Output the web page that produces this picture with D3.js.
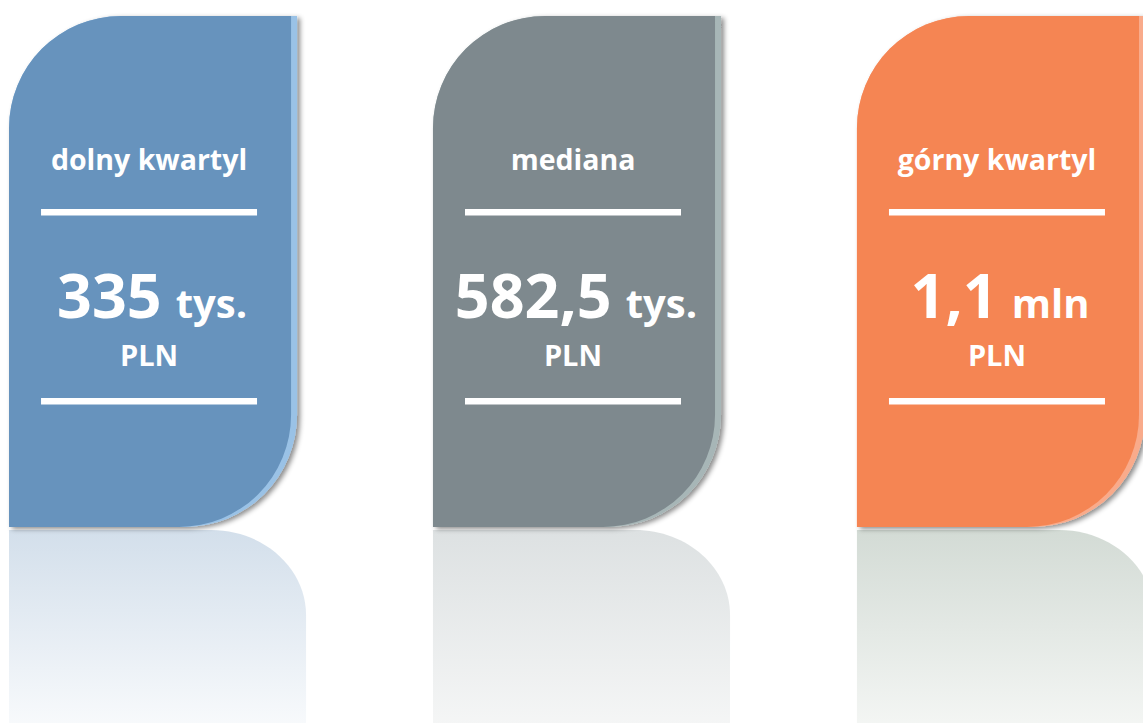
<!DOCTYPE html>
<head>
    <meta charset="utf-8">
    <script src="https://d3js.org/d3.v7.min.js"></script>
    <style>
        body { margin: 0; background: #fff; }
        svg { display: block; font-family: "Open Sans", "Noto Sans", sans-serif; }
    </style>
</head>
<body>
    <svg></svg>
</body>

<script>
    // Data
    var labels = ["dolny kwartyl", "mediana", "górny kwartyl"];
    var values = ["335", "582,5", "1,1"];
    var units = ["tys.", "tys.", "mln"];
    var currency = ["PLN", "PLN", "PLN"];

    // Colours per card: fill, light edge, reflection top, reflection bottom
    var fills = ["#6793bd", "#7e898e", "#f58553"];
    var edges = ["#9ac2e6", "#a7b6b7", "#f9ab8b"];
    var reflTop = ["#d3dfeb", "#dde1e2", "#d3dbd5"];
    var reflBottom = ["#f8fafc", "#f5f6f6", "#f4f6f4"];

    var width = 1143;
    var height = 723;
    var cardTop = 16, cardBottom = 527, r = 112;
    var reflY = 530, reflRx = 95, reflRy = 85;

    var svg = d3.select('svg')
        .attr('width', width)
        .attr('height', height);

    var x = d3.scaleBand()
        .domain(labels)
        .range([9, 1141])
        .paddingInner(0.33)
        .paddingOuter(0);

    var defs = svg.append('defs');

    var shadow = defs.append('filter')
        .attr('id', 'shadow')
        .attr('x', '-10%').attr('y', '-10%')
        .attr('width', '130%').attr('height', '130%');
    shadow.append('feDropShadow')
        .attr('dx', 3).attr('dy', 2)
        .attr('stdDeviation', 2.5)
        .attr('flood-color', '#000')
        .attr('flood-opacity', 0.45);

    labels.forEach(function (d, i) {
        var grad = defs.append('linearGradient')
            .attr('id', 'refl' + i)
            .attr('x1', 0).attr('y1', 0).attr('x2', 0).attr('y2', 1);
        grad.append('stop').attr('offset', '0%').attr('stop-color', reflTop[i]);
        grad.append('stop').attr('offset', '100%').attr('stop-color', reflBottom[i]);
    });

    // card outline: rounded top-left and bottom-right corners
    function cardPath(x0, x1) {
        var p = d3.path();
        p.moveTo(x0, cardBottom);
        p.lineTo(x0, cardTop + r);
        p.arcTo(x0, cardTop, x0 + r, cardTop, r);
        p.lineTo(x1, cardTop);
        p.lineTo(x1, cardBottom - r);
        p.arcTo(x1, cardBottom, x1 - r, cardBottom, r);
        p.closePath();
        return p.toString();
    }

    // reflection: mirrored bottom-right corner, fading out
    function reflPath(x0, x1) {
        var k = 0.5523;
        var p = d3.path();
        p.moveTo(x0, height + 5);
        p.lineTo(x0, reflY);
        p.lineTo(x1 - reflRx, reflY);
        p.bezierCurveTo(x1 - reflRx + reflRx * k, reflY, x1, reflY + reflRy - reflRy * k, x1, reflY + reflRy);
        p.lineTo(x1, height + 5);
        p.closePath();
        return p.toString();
    }

    var bw = x.bandwidth();

    var cards = svg.selectAll('g.card')
        .data(labels)
        .enter().append('g')
        .attr('class', 'card');

    cards.append('path')
        .attr('d', function (d) { return reflPath(x(d), x(d) + bw + 13); })
        .attr('fill', function (d, i) { return 'url(#refl' + i + ')'; });

    cards.append('path')
        .attr('d', function (d) { return cardPath(x(d), x(d) + bw + 4); })
        .attr('fill', function (d, i) { return edges[i]; })
        .attr('filter', 'url(#shadow)');

    cards.append('path')
        .attr('d', function (d) { return cardPath(x(d), x(d) + bw - 2); })
        .attr('fill', function (d, i) { return fills[i]; });

    function cx(d) { return x(d) + bw / 2 - 2; }

    cards.append('text')
        .attr('x', cx)
        .attr('y', 170)
        .attr('text-anchor', 'middle')
        .attr('fill', '#fff')
        .style('font-weight', 700)
        .style('font-size', '28.5px')
        .text(function (d) { return d; });

    [209, 398].forEach(function (ly) {
        cards.append('rect')
            .attr('x', function (d) { return cx(d) - 108; })
            .attr('y', ly)
            .attr('width', 216)
            .attr('height', 6.5)
            .attr('fill', '#fff');
    });

    var val = cards.append('text')
        .attr('x', function (d) { return cx(d) + 3; })
        .attr('y', 318)
        .attr('text-anchor', 'middle')
        .attr('fill', '#fff')
        .style('font-weight', 700);
    val.append('tspan')
        .style('font-size', '61px')
        .text(function (d, i) { return values[i]; });
    val.append('tspan')
        .attr('dx', 14)
        .style('font-size', '40px')
        .text(function (d, i) { return units[i]; });

    cards.append('text')
        .attr('x', cx)
        .attr('y', 366)
        .attr('text-anchor', 'middle')
        .attr('fill', '#fff')
        .style('font-weight', 700)
        .style('font-size', '29px')
        .text(function (d, i) { return currency[i]; });
</script>
